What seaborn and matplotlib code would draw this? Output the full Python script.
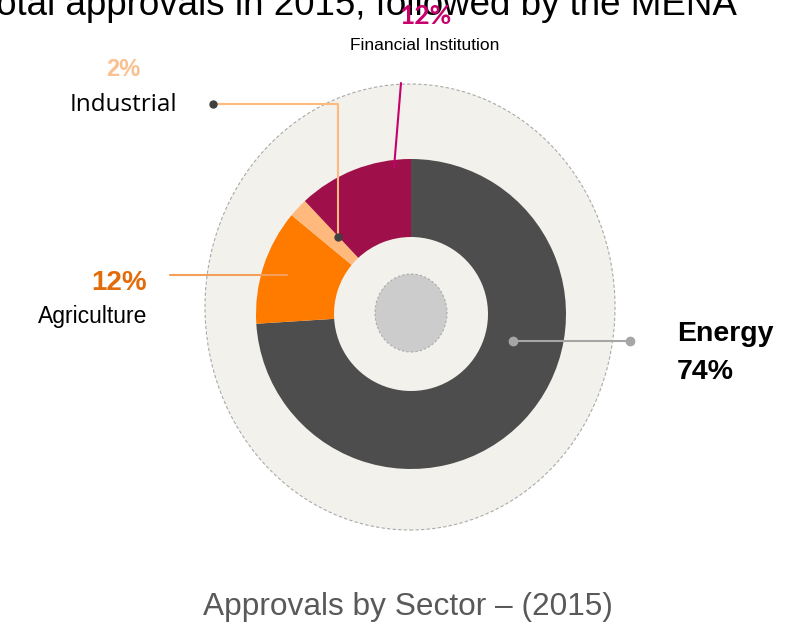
import matplotlib.pyplot as plt
import seaborn as sns
from matplotlib.patches import Ellipse

W, H = 794, 627

# sector shares in 2015 (clockwise from 12 o'clock)
sectors = ["Energy", "Agriculture", "Industrial", "Financial Institution"]
shares = [74, 12, 2, 12]
share_labels = ["74%", "12%", "2%", "12%"]
wedge_colors = ["#4d4d4d", "#ff7b00", "#ffb97c", "#9f0f4a"]

title_text = "total approvals in 2015, followed by the MENA"
caption_text = "Approvals by Sector \u2013 (2015)"


def py(y):
    # pixel row (from top) -> data y
    return H - y


sns.set_theme(style="white")
plt.rcParams["font.family"] = ["Liberation Sans", "DejaVu Sans"]

fig = plt.figure(figsize=(W / 100, H / 100), dpi=100)
ax = fig.add_axes([0, 0, 1, 1])

# background ellipse and donut
ax.add_patch(Ellipse((410, py(307)), 410, 446, facecolor="#f2f1ec",
                     edgecolor="#aaaaaa", linestyle=(0, (3, 2)), linewidth=0.8, zorder=1))

ax.pie(shares, colors=wedge_colors, startangle=90, counterclock=False,
       center=(411, py(314)), radius=155, frame=True,
       wedgeprops=dict(width=78, linewidth=0), )
for w in ax.patches[1:]:
    w.set_zorder(2)

ax.add_patch(Ellipse((411, py(313)), 72, 78, facecolor="#cccccc",
                     edgecolor="#aaaaaa", linestyle=(0, (2, 2)), linewidth=0.8, zorder=3))

# title fragment cut by the top edge
ax.text(737, py(15), title_text, ha="right", va="baseline", fontsize=26.5,
        color="black", zorder=4)

# Financial Institution
ax.plot([401, 394], [py(83), py(168)], color="#c7006b", lw=1.5, zorder=5)
ax.text(425, py(16), share_labels[3], ha="center", va="center", fontsize=19,
        fontweight="bold", color="#c7006b", family=["Lato", "DejaVu Sans"], zorder=6)
ax.text(425, py(46), sectors[3], ha="center", va="center", fontsize=12.5,
        color="black", zorder=6)

# Industrial
ax.plot([213, 338, 338], [py(104), py(104), py(237)], color="#ffb97c", lw=1.5, zorder=5)
ax.plot([213, 338], [py(104), py(237)], "o", color="#404040", ms=5, zorder=6)
ax.text(123, py(70), share_labels[2], ha="center", va="center", fontsize=17,
        fontweight="bold", color="#fac090", zorder=6)
ax.text(123, py(105), sectors[2], ha="center", va="center", fontsize=17.5,
        family=["Open Sans", "DejaVu Sans"], color="black", zorder=6)

# Agriculture
ax.plot([170, 287], [py(275), py(275)], color="#f4a05a", lw=1.5, zorder=5)
ax.text(147, py(283), share_labels[1], ha="right", va="center", fontsize=20,
        fontweight="bold", color="#e36c0a", zorder=6)
ax.text(147, py(317), sectors[1], ha="right", va="center", fontsize=16.5,
        color="black", zorder=6)

# Energy
ax.plot([513, 630], [py(341), py(341)], color="#a6a6a6", lw=1.5, zorder=5)
ax.plot([513, 630], [py(341), py(341)], "o", color="#a6a6a6", ms=6, zorder=6)
ax.text(677, py(334), sectors[0], ha="left", va="center", fontsize=20.5,
        fontweight="bold", color="black", zorder=6)
ax.text(677, py(372), share_labels[0], ha="left", va="center", fontsize=20.5,
        fontweight="bold", color="black", zorder=6)

# caption
ax.text(408, py(607), caption_text, ha="center", va="center", fontsize=22.8,
        color="#595959", zorder=6)

ax.set_xlim(0, W)
ax.set_ylim(0, H)
ax.set_aspect("auto")
ax.axis("off")

fig.savefig("out.png", dpi=100)
